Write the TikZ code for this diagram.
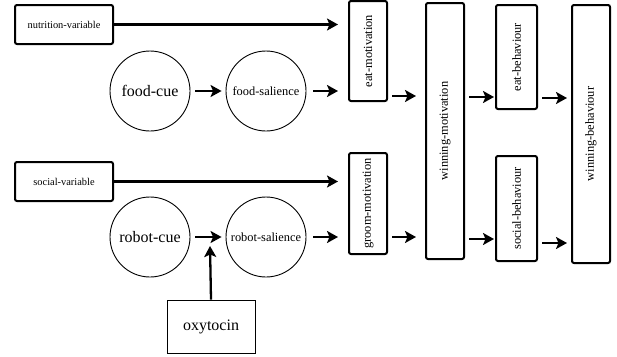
\documentclass[tikz,border=0pt]{standalone}
\usepackage{fontspec}
\setmainfont{Liberation Serif}
\usetikzlibrary{arrows.meta}
\begin{document}
\begin{tikzpicture}[x=1pt,y=-1pt,
  thickbox/.style={draw,line width=2pt,rounded corners=2pt,inner sep=0pt},
  circ/.style={draw,circle,line width=0.9pt,minimum size=80pt,inner sep=0pt},
  thinbox/.style={draw,line width=0.9pt,inner sep=0pt},
  fs/.style={font=\fontsize{10.4}{12}\selectfont},
  fm/.style={font=\fontsize{12.4}{14}\selectfont},
  fl/.style={font=\fontsize{16}{18}\selectfont},
  arr/.style={line width=2.3pt,-{Stealth[length=11pt,width=12pt,inset=2.5pt]}}]
\useasboundingbox (0,0) rectangle (617,356);
% left boxes
\node[thickbox,fs,minimum width=98pt,minimum height=39pt] (nutr) at (64,24.5) {nutrition-variable};
\node[thickbox,fs,minimum width=98pt,minimum height=39pt] (soc) at (64,181.5) {social-variable};
% circles
\node[circ,fl] (foodcue) at (150,91) {food-cue};
\node[circ,fm] (foodsal) at (266,91) {food-salience};
\node[circ,fl] (robotcue) at (150,237) {robot-cue};
\node[circ,fm] (robotsal) at (266,237) {robot-salience};
% oxytocin
\node[thinbox,fl,minimum width=88pt,minimum height=53pt] (oxy) at (211,326.5) {oxytocin};
% vertical boxes
\node[thickbox,fm,minimum width=38pt,minimum height=100pt] (eatmot) at (368,51) {\rotatebox{90}{eat-motivation}};
\node[thickbox,fm,minimum width=38pt,minimum height=101pt] (groommot) at (368,203.5) {\rotatebox{90}{groom-motivation}};
\node[thickbox,fm,minimum width=38pt,minimum height=256pt] (winmot) at (445,131) {\rotatebox{90}{winning-motivation}};
\node[thickbox,fm,minimum width=41pt,minimum height=104pt] (eatbeh) at (516.5,57) {\rotatebox{90}{eat-behaviour}};
\node[thickbox,fm,minimum width=41pt,minimum height=105pt] (socbeh) at (516.5,208.5) {\rotatebox{90}{social-behaviour}};
\node[thickbox,fm,minimum width=38pt,minimum height=258pt] (winbeh) at (591,134) {\rotatebox{90}{winning-behaviour}};
% helper coordinates for arrow heights
\coordinate (y96) at (0,96);
\coordinate (y97) at (0,97);
\coordinate (y98) at (0,98);
\coordinate (y239) at (0,239);
\coordinate (y243) at (0,243);
\coordinate (oxytip) at (210,246);
% arrows
\draw[arr,shorten >=10pt] (nutr.east) -- (nutr.east -| eatmot.west);
\draw[arr,shorten >=10pt] (soc.east) -- (soc.east -| groommot.west);
\draw[arr,shorten <=5pt,shorten >=4pt] (foodcue) -- (foodsal);
\draw[arr,shorten <=5pt,shorten >=4pt] (robotcue) -- (robotsal);
\draw[arr,shorten <=7pt,shorten >=10pt] (foodsal.east) -- (foodsal.east -| eatmot.west);
\draw[arr,shorten <=7pt,shorten >=10pt] (robotsal.east) -- (robotsal.east -| groommot.west);
\draw[arr,shorten <=4pt,shorten >=9pt] (eatmot.east |- y96) -- (winmot.west |- y96);
\draw[arr,shorten <=4pt,shorten >=9pt] (groommot.east |- robotsal) -- (winmot.west |- robotsal);
\draw[arr,shorten <=4pt,shorten >=1pt] (winmot.east |- y97) -- (eatbeh.west |- y97);
\draw[arr,shorten <=4pt,shorten >=1pt] (winmot.east |- y239) -- (socbeh.west |- y239);
\draw[arr,shorten <=4pt,shorten >=4pt] (eatbeh.east |- y98) -- (winbeh.west |- y98);
\draw[arr,shorten <=4pt,shorten >=4pt] (socbeh.east |- y243) -- (winbeh.west |- y243);
\draw[arr] (oxy.north) -- (oxytip);
\end{tikzpicture}
\end{document}
